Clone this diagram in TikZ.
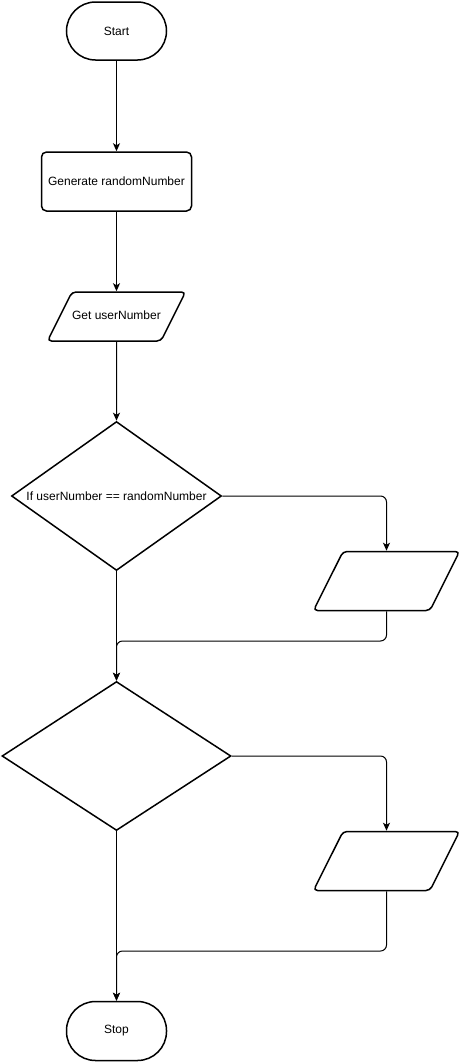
\documentclass[tikz,border=0pt]{standalone}
\usepackage{fontspec}
\setmainfont{Liberation Sans}
\usetikzlibrary{shapes.geometric,arrows.meta}
\begin{document}
\begin{tikzpicture}[x=1pt,y=-1pt,font=\fontsize{12}{14}\selectfont]
    \tikzstyle{term}=[draw, line width=1.5pt, rounded corners=29pt, minimum width=100pt, minimum height=58pt, inner sep=0pt]
    \tikzstyle{proc}=[draw, line width=1.5pt, rounded corners=5pt, minimum width=150pt, minimum height=59pt, inner sep=0pt]
    \tikzstyle{io}=[draw, line width=1.5pt, trapezium, trapezium left angle=63.4, trapezium right angle=116.6, trapezium stretches body, rounded corners=4pt, inner xsep=0pt, text height=9pt, text depth=3pt]
    \tikzstyle{cond}=[draw, line width=1.5pt, diamond, shape aspect=1.45, inner sep=0pt]
    \tikzstyle{link}=[line width=1pt, rounded corners=6pt, -{Stealth[length=8pt,width=7pt,inset=2pt]}]
    \useasboundingbox (0,0) rectangle (462,1063);
    \node[term] (start) at (116.5,31) {Start};
    \node[proc] (gen) at (116.5,181.5) {Generate randomNumber};
    \node[io, minimum width=138pt, inner ysep=18.5pt] (get) at (116.5,316.5) {Get userNumber};
    \node[cond, minimum width=210pt, minimum height=149pt] (d1) at (116.5,496) {If userNumber == randomNumber};
    \node[io, minimum width=146pt, inner ysep=23.5pt] (o1) at (386.5,581) {};
    \node[cond, minimum width=229pt, minimum height=149pt] (d2) at (116.5,756) {};
    \node[io, minimum width=146pt, inner ysep=23.5pt] (o2) at (386.5,861) {};
    \node[term, minimum height=59pt] (stop) at (116.5,1031) {Stop};
    \coordinate (m1) at (116.5,641);
    \coordinate (m2) at (116.5,951);
    \draw[link] (start) -- (gen);
    \draw[link] (gen) -- (get);
    \draw[link] (get) -- (d1);
    \draw[link] (d1.east) -| (o1.north);
    \draw[link] (d1.south) -- (d2.north);
    \draw[link] (o1.south) |- (m1) -- (d2.north);
    \draw[link] (d2.east) -| (o2.north);
    \draw[link] (d2.south) -- (stop.north);
    \draw[link] (o2.south) |- (m2) -- (stop.north);
\end{tikzpicture}
\end{document}
